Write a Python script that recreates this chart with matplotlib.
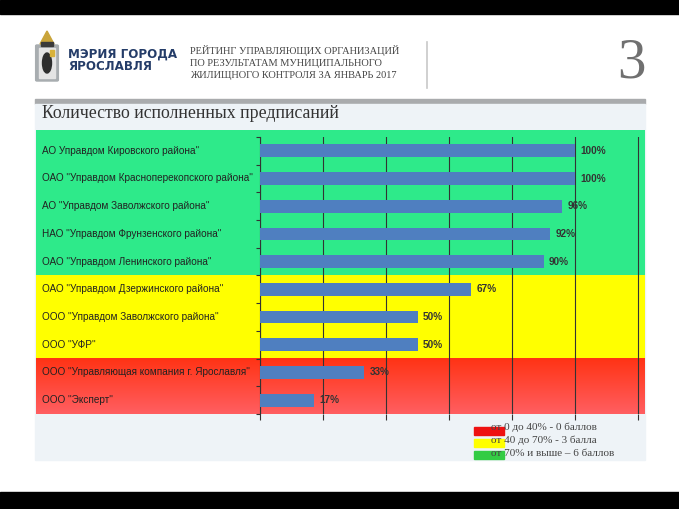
import matplotlib.pyplot as plt
import matplotlib.patches as mpatches
import numpy as np

# --- data ---
companies = [
    'АО Управдом Кировского района"',
    'ОАО "Управдом Красноперекопского района"',
    'АО "Управдом Заволжского района"',
    'НАО "Управдом Фрунзенского района"',
    'ОАО "Управдом Ленинского района"',
    'ОАО "Управдом Дзержинского района"',
    'ООО "Управдом Заволжского района"',
    'ООО "УФР"',
    'ООО "Управляющая компания г. Ярославля"',
    'ООО "Эксперт"',
]
done_pct = [100, 100, 96, 92, 90, 67, 50, 50, 33, 17]
pct_labels = ['100%', '100%', '96%', '92%', '90%', '67%', '50%', '50%', '33%', '17%']

legend_texts = ['от 0 до 40% - 0 баллов', 'от 40 до 70% - 3 балла', 'от 70% и выше – 6 баллов']
legend_colors = ['#ee1111', '#ffff00', '#33cc44']

W, H = 679, 509
fig = plt.figure(figsize=(W / 100, H / 100), dpi=100)
fig.patch.set_facecolor('white')


def box(x0, y0, x1, y1):
    # pixel box (top-left origin) -> figure fraction rect
    return [x0 / W, 1 - y1 / H, (x1 - x0) / W, (y1 - y0) / H]


def px(x, y):
    return x / W, 1 - y / H


def rect(x0, y0, x1, y1, c, z=-1, **kw):
    fig.patches.append(mpatches.Rectangle(px(x0, y1), (x1 - x0) / W, (y1 - y0) / H,
                                          transform=fig.transFigure, color=c, zorder=z, **kw))


# black bars top / bottom, grey rule and pale panel
rect(0, 0, W, 14, 'black')
rect(0, 492, W, H, 'black')
rect(35, 99, 645, 104, '#a9abad')
rect(35, 104, 645, 460, '#eef3f7')
fig.lines.append(plt.Line2D([427 / W, 427 / W], [1 - 42 / H, 1 - 88 / H], transform=fig.transFigure,
                            color='#c8c8c8', lw=1.2))

# simple coat of arms stand-in
fig.patches.append(mpatches.FancyBboxPatch(px(37, 80), 20 / W, 34 / H, boxstyle='round,pad=0.002',
                                           transform=fig.transFigure, color='#a8adb0'))
rect(39, 48, 55, 78, '#e4e4e4', z=1)
fig.patches.append(mpatches.Ellipse(px(47, 63), 9 / W, 20 / H, transform=fig.transFigure,
                                    color='#2e2e2e', zorder=2))
rect(50, 50, 54, 56, '#d9b23a', z=2)
fig.patches.append(mpatches.Polygon([px(40, 44), px(47, 31), px(54, 44)], closed=True,
                                    transform=fig.transFigure, color='#c9a43a'))
rect(41, 42, 53, 46, '#3a3a3a', z=2)

fig.text(*px(68, 54), 'МЭРИЯ ГОРОДА', fontsize=8.6, fontweight='bold', color='#243c68',
         family='DejaVu Sans', va='center')
fig.text(*px(68, 67), 'ЯРОСЛАВЛЯ', fontsize=8.6, fontweight='bold', color='#243c68',
         family='DejaVu Sans', va='center')

head = ['РЕЙТИНГ УПРАВЛЯЮЩИХ ОРГАНИЗАЦИЙ', 'ПО РЕЗУЛЬТАТАМ МУНИЦИПАЛЬНОГО',
        'ЖИЛИЩНОГО КОНТРОЛЯ ЗА ЯНВАРЬ 2017']
for i, t in enumerate(head):
    fig.text(*px(190, 51 + 12 * i), t, fontsize=7.5, color='#444444', family='Liberation Serif', va='center')

fig.text(*px(646, 64), '3', fontsize=41, color='#707070', family='Liberation Serif', ha='right', va='center')
fig.text(*px(42, 114), 'Количество исполненных предписаний', fontsize=12.8, color='#333333',
         family='Liberation Serif', va='center')

# --- coloured background, whole width incl. labels ---
n = len(companies)
top_pad = 0.25  # coloured area starts a little above the first row
bg = fig.add_axes(box(36, 130, 645, 414))
bg.axis('off')


def zone(v):
    if v >= 70:
        return '#2eea8a'
    if v >= 40:
        return '#ffff00'
    return '#ff3a22'


for i, v in enumerate(done_pct):
    lo = i - 0.5 - (top_pad if i == 0 else 0)
    bg.axhspan(lo, i + 0.5, color=zone(v), lw=0)
# red zone: bright at the top, lighter towards the bottom
red_rows = [i for i, v in enumerate(done_pct) if v < 40]
if red_rows:
    grad = np.linspace(0, 1, 64)[:, None]
    cols = np.zeros((64, 1, 4))
    cols[..., 0] = 1.0
    cols[..., 1] = 0.2 + 0.17 * grad
    cols[..., 2] = 0.08 + 0.3 * grad
    cols[..., 3] = 1.0
    bg.imshow(cols, extent=(0, 1, red_rows[-1] + 0.5, red_rows[0] - 0.5), aspect='auto', zorder=1)
bg.set_xlim(0, 1)
bg.set_ylim(n - 0.5, -0.5 - top_pad)

for i, name in enumerate(companies):
    bg.text(0.01, i, name, fontsize=7.2, color='#222222', family='Liberation Sans', va='center', zorder=2)

# --- bar chart ---
ax = fig.add_axes(box(260, 137, 645, 414))
ax.patch.set_alpha(0)
y = np.arange(n)
ax.barh(y, done_pct, height=0.46, color='#4f7fc0', zorder=3)
ax.set_xlim(0, 122.2)
ax.set_ylim(n - 0.5, -0.5)
for yi, v, lab in zip(y, done_pct, pct_labels):
    ax.annotate(lab, (v, yi), xytext=(4, 0), textcoords='offset points', va='center',
                fontsize=7.2, fontweight='bold', color='#333333', family='Liberation Sans', zorder=4)

ax.set_xticks(range(0, 121, 20))
ax.set_xticklabels([])
ax.xaxis.grid(True, color='#333333', lw=0.8)
ax.set_axisbelow(True)
ax.tick_params(axis='x', length=4, color='#333333', width=0.8)
ax.set_yticks(np.arange(-0.5, n, 1))
ax.set_yticklabels([])
ax.tick_params(axis='y', length=3, color='#333333', width=0.8)
for s in ['top', 'right', 'bottom']:
    ax.spines[s].set_visible(False)
ax.spines['left'].set_color('#333333')
ax.spines['left'].set_linewidth(0.8)

# --- legend ---
for i, (t, c) in enumerate(zip(legend_texts, legend_colors)):
    yy = 427 + 13.5 * i
    sy = 427 + 12 * i
    rect(474, sy, 504, sy + 8, c, z=2)
    fig.text(*px(491, yy), t, fontsize=8, color='#444444', family='Liberation Serif', va='center', zorder=3)

fig.savefig('out.png', dpi=100)
